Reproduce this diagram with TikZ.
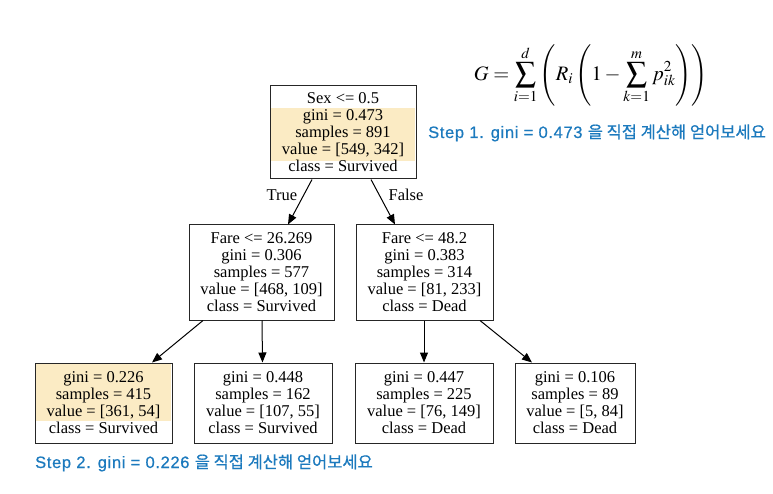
\documentclass[tikz,border=0pt]{standalone}
\usepackage{mathptmx}
\usepackage{fontspec}
\setmainfont{Liberation Serif}
\newfontfamily\sansf[LetterSpace=4,FakeBold=0.6]{Liberation Sans}
\newfontfamily\krf[FakeBold=0.6]{Noto Sans CJK KR}
\usetikzlibrary{arrows.meta}
\definecolor{hl}{RGB}{251,235,196}
\definecolor{stepblue}{RGB}{28,122,190}
\tikzset{
  treebox/.style={draw=black!85, line width=1pt, align=center, inner sep=0pt,
    font=\fontsize{16.5}{17}\selectfont},
  hlbox/.style={fill=hl, draw=none},
  arr/.style={line width=1pt, -{Triangle[length=10pt,width=8pt]}},
  edgelbl/.style={font=\fontsize{16.5}{17}\selectfont},
  steptxt/.style={text=stepblue, anchor=base west, inner sep=0pt, font=\fontsize{16.5}{18}\selectfont},
}
\begin{document}
\begin{tikzpicture}[x=1pt,y=-1pt]
\useasboundingbox[fill=white] (0,0) rectangle (773,494);
% highlights
\fill[hl] (271,108) rectangle (415,161);
\fill[hl] (36,364) rectangle (171,421);
% nodes
\node[treebox, minimum width=146pt, minimum height=93pt] (root) at (343,132.5)
  {Sex <= 0.5\\gini = 0.473\\samples = 891\\value = [549, 342]\\class = Survived};
\node[treebox, minimum width=145pt, minimum height=95pt] (ml) at (261.5,272.5)
  {Fare <= 26.269\\gini = 0.306\\samples = 577\\value = [468, 109]\\class = Survived};
\node[treebox, minimum width=137pt, minimum height=95pt] (mr) at (424.5,272.5)
  {Fare <= 48.2\\gini = 0.383\\samples = 314\\value = [81, 233]\\class = Dead};
\node[treebox, minimum width=137pt, minimum height=80pt] (b1) at (103.5,403)
  {gini = 0.226\\samples = 415\\value = [361, 54]\\class = Survived};
\node[treebox, minimum width=138pt, minimum height=80pt] (b2) at (263,403)
  {gini = 0.448\\samples = 162\\value = [107, 55]\\class = Survived};
\node[treebox, minimum width=138pt, minimum height=80pt] (b3) at (424,403)
  {gini = 0.447\\samples = 225\\value = [76, 149]\\class = Dead};
\node[treebox, minimum width=120pt, minimum height=80pt] (b4) at (575,403)
  {gini = 0.106\\samples = 89\\value = [5, 84]\\class = Dead};
% edges
\draw[arr] ([xshift=-31pt]root.south) -- ([xshift=26.5pt]ml.north);
\draw[arr] ([xshift=28pt]root.south) -- ([xshift=-29.5pt]mr.north);
\draw[arr] ([xshift=-58.5pt]ml.south) -- ([xshift=48.5pt]b1.north);
\draw[arr] ([xshift=0.5pt]ml.south) -- ([xshift=-0.5pt]b2.north);
\draw[arr] ([xshift=-0.5pt]mr.south) -- ([xshift=0pt]b3.north);
\draw[arr] ([xshift=55.5pt]mr.south) -- ([xshift=-43pt]b4.north);
\node[edgelbl] (tlbl) at (282,195) {True};
\node[edgelbl] (flbl) at (406,195) {False};
% formula
\node[font=\fontsize{20.5}{24}\selectfont] (formula) at (591,75)
  {$\displaystyle G=\sum_{i=1}^{d}\left(R_i\left(1-\sum_{k=1}^{m}p_{ik}^2\right)\right)$};
% step texts
\node[steptxt] (step1) at (428,138) {{\sansf Step 1. gini = 0.473 }{\krf 을 직접 계산해 얻어보세요}};
\node[steptxt] (step2) at (35,468) {{\sansf Step 2. gini = 0.226 }{\krf 을 직접 계산해 얻어보세요}};
\end{tikzpicture}
\end{document}
